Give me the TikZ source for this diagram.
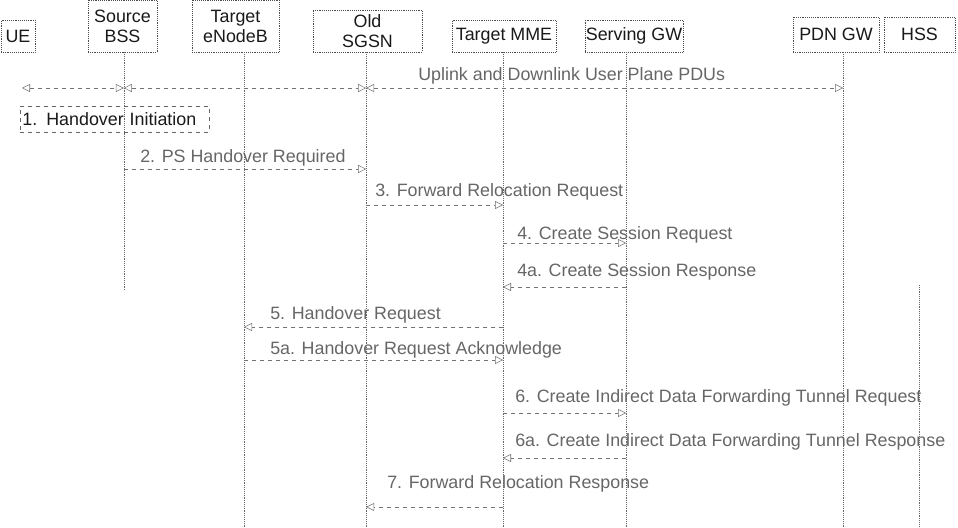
\documentclass[tikz,border=0pt]{standalone}
\usepackage{fontspec}
\setmainfont{Liberation Sans}
\usetikzlibrary{arrows.meta}

\begin{document}
\begin{tikzpicture}[x=0.75pt, y=-0.75pt, font=\fontsize{13.4}{15}\selectfont,
    entity/.style={draw=black!70, densely dotted, text=black!90, align=center, inner sep=0pt},
    lifeline/.style={draw=black!60, densely dotted},
    msg/.style={draw=black!55, dashed, -{Triangle[open, length=6pt, width=6pt]}},
    twoway/.style={msg, {Triangle[open, length=6pt, width=6pt]}-{Triangle[open, length=6pt, width=6pt]}},
    msgtext/.style={text=black!60, anchor=base west, inner sep=0pt}]
    \useasboundingbox (0,0) rectangle (958,528);

    % entities
    \node[entity, minimum width=25.5pt,  minimum height=24pt]    (UE)         at (18,36)      {UE};
    \node[entity, minimum width=51.75pt, minimum height=39pt]    (Source BSS) at (122.5,26)   {Source\\BSS};
    \node[entity, minimum width=65.25pt, minimum height=39pt]    (Target eNB) at (235.5,26)   {Target\\eNodeB};
    \node[entity, minimum width=81.75pt, minimum height=31.5pt]  (Old SGSN)   at (367.5,31)   {Old\\SGSN};
    \node[entity, minimum width=78pt,    minimum height=24pt]    (Target MME) at (504,36)     {Target MME};
    \node[entity, minimum width=73.5pt,  minimum height=24pt]    (Serving GW) at (634,36)     {Serving GW};
    \node[entity, minimum width=64.5pt,  minimum height=26.25pt] (PDN GW)     at (836,34.5)   {PDN GW};
    \node[entity, minimum width=53.25pt, minimum height=26.25pt] (HSS)        at (919.5,34.5) {HSS};

    % where the lifelines leave the boxes
    \coordinate (ue line)   at ([xshift=3pt]UE.south);
    \coordinate (bss line)  at ([xshift=1pt]Source BSS.south);
    \coordinate (enb line)  at ([xshift=6.4pt]Target eNB.south);
    \coordinate (sgsn line) at ([xshift=-1pt]Old SGSN.south);
    \coordinate (mme line)  at ([xshift=-0.75pt]Target MME.south);
    \coordinate (sgw line)  at ([xshift=-6pt]Serving GW.south);
    \coordinate (pgw line)  at ([xshift=5.25pt]PDN GW.south);
    \coordinate (hss line)  at (HSS.south);

    % lifelines
    \coordinate (bottom) at (0,528);
    \coordinate (bss end) at (0,290);
    \coordinate (hss start) at (0,285);
    \draw[lifeline] (bss line) -- (bss line |- bss end);
    \draw[lifeline] (enb line) -- (enb line |- bottom);
    \draw[lifeline] (sgsn line) -- (sgsn line |- bottom);
    \draw[lifeline] (mme line) -- (mme line |- bottom);
    \draw[lifeline] (sgw line) -- (sgw line |- bottom);
    \draw[lifeline] (pgw line) -- (pgw line |- bottom);
    \draw[lifeline] (hss line |- hss start) -- (hss line |- bottom);

    % user plane
    \coordinate (row 0) at (0,88);
    \draw[twoway] (ue line |- row 0) -- (bss line |- row 0);
    \draw[twoway] (bss line |- row 0) -- (sgsn line |- row 0);
    \draw[twoway] (sgsn line |- row 0) -- (pgw line |- row 0);
    \node[msgtext] (t0) at (418,81) {Uplink and Downlink User Plane PDUs};

    \node[draw=black!60, dashed, text=black!90, minimum width=141.75pt, minimum height=19.5pt,
          text width=138pt, align=left, inner sep=1pt] (step 1) at (114.5,119) {1. Handover Initiation};

    % messages
    \coordinate (row 2) at (0,169);
    \draw[msg] (bss line |- row 2) -- (sgsn line |- row 2);
    \node[msgtext] (t2) at (140,163) {2. PS Handover Required};

    \coordinate (row 3) at (0,205);
    \draw[msg] (sgsn line |- row 3) -- (mme line |- row 3);
    \node[msgtext] (t3) at (375,196) {3. Forward Relocation Request};

    \coordinate (row 4) at (0,243);
    \draw[msg] (mme line |- row 4) -- (sgw line |- row 4);
    \node[msgtext] (t4) at (517,239) {4. Create Session Request};

    \coordinate (row 4a) at (0,287);
    \draw[msg] (sgw line |- row 4a) -- (mme line |- row 4a);
    \node[msgtext] (t4a) at (517,276) {4a. Create Session Response};

    \coordinate (row 5) at (0,327);
    \draw[msg] (mme line |- row 5) -- (enb line |- row 5);
    \node[msgtext] (t5) at (270,319) {5. Handover Request};

    \coordinate (row 5a) at (0,360);
    \draw[msg] (enb line |- row 5a) -- (mme line |- row 5a);
    \node[msgtext] (t5a) at (270,354) {5a. Handover Request Acknowledge};

    \coordinate (row 6) at (0,413);
    \draw[msg] (mme line |- row 6) -- (sgw line |- row 6);
    \node[msgtext] (t6) at (515,402) {6. Create Indirect Data Forwarding Tunnel Request};

    \coordinate (row 6a) at (0,458);
    \draw[msg] (sgw line |- row 6a) -- (mme line |- row 6a);
    \node[msgtext] (t6a) at (515,446) {6a. Create Indirect Data Forwarding Tunnel Response};

    \coordinate (row 7) at (0,507);
    \draw[msg] (mme line |- row 7) -- (sgsn line |- row 7);
    \node[msgtext] (t7) at (387,488) {7. Forward Relocation Response};
\end{tikzpicture}
\end{document}
